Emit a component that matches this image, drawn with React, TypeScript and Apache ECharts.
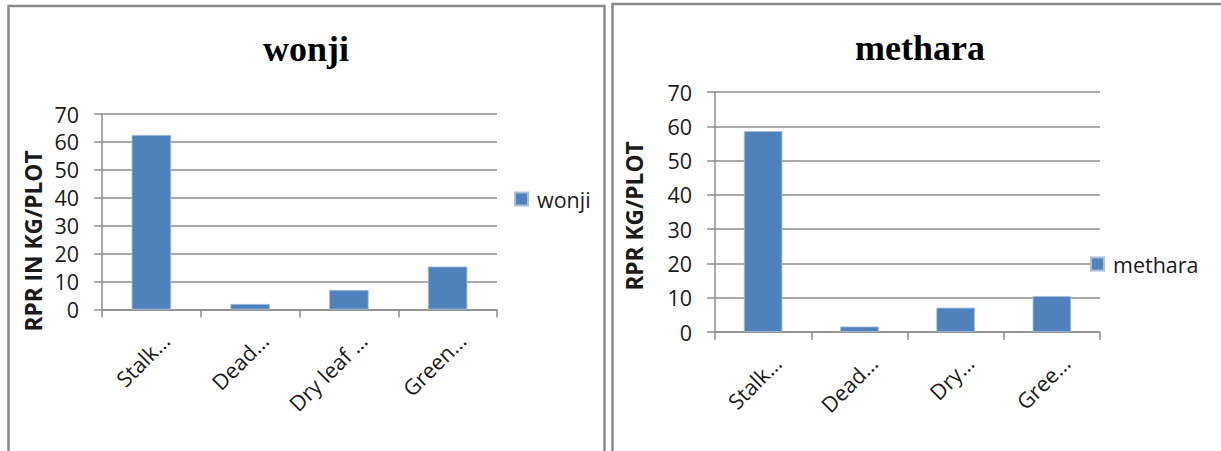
import React, { useEffect, useRef } from "react";
import * as echarts from "echarts";

const wonjiCategories = ["Stalk…", "Dead…", "Dry leaf …", "Green…"];
const wonjiValues = [62.5, 2.0, 7.0, 15.4];
const metharaCategories = ["Stalk…", "Dead…", "Dry…", "Gree…"];
const metharaValues = [58.6, 1.6, 7.1, 10.5];
const yMin = 0;
const yMax = 70;
const yStep = 10;
const wonjiTitle = "wonji";
const metharaTitle = "methara";
const wonjiAxisName = "RPR IN KG/PLOT";
const metharaAxisName = "RPR KG/PLOT";

const FONT = "Open Sans";
const GRID_COLOR = "#8e8e8e";
const BAR_COLOR = "#4f81bd";

function xAxisFor(cats: string[], gridIndex: number) {
  return {
    type: "category",
    gridIndex,
    data: cats,
    boundaryGap: true,
    axisLine: { show: true, lineStyle: { color: GRID_COLOR, width: 1.5 } },
    axisTick: { show: true, length: 8, lineStyle: { color: GRID_COLOR, width: 1.5 } },
    axisLabel: {
      rotate: 45,
      interval: 0,
      margin: 13,
      fontFamily: FONT,
      fontSize: 21.5,
      color: "#1a1a1a",
      verticalAlign: "top",
      lineHeight: 40,
    },
  };
}

function yAxisFor(gridIndex: number) {
  return {
    type: "value",
    gridIndex,
    min: yMin,
    max: yMax,
    interval: yStep,
    axisLine: { show: true, lineStyle: { color: GRID_COLOR, width: 1.5 } },
    axisTick: { show: true, length: 8, inside: false, lineStyle: { color: GRID_COLOR, width: 1.5 } },
    splitLine: { show: true, lineStyle: { color: GRID_COLOR, width: 1.5 } },
    axisLabel: { margin: 23, fontFamily: FONT, fontSize: 21.5, color: "#1a1a1a" },
  };
}

export default function App() {
  const ref = useRef<HTMLDivElement>(null);
  useEffect(() => {
    if (!ref.current) return;
    const chart = echarts.init(ref.current, undefined, { renderer: "svg" });
    chart.setOption({
      animation: false,
      backgroundColor: "#ffffff",
      title: [
        {
          text: wonjiTitle,
          left: 306,
          top: 31,
          textAlign: "center",
          padding: 0,
          textStyle: { fontFamily: "Liberation Serif", fontWeight: "bold", fontSize: 36, color: "#000" },
        },
        {
          text: metharaTitle,
          left: 920,
          top: 30,
          textAlign: "center",
          padding: 0,
          textStyle: { fontFamily: "Liberation Serif", fontWeight: "bold", fontSize: 36, color: "#000" },
        },
      ],
      legend: [
        {
          data: [wonjiTitle],
          left: 514,
          top: 188,
          padding: 0,
          itemWidth: 13,
          itemHeight: 13,
          icon: "rect",
          textStyle: { fontFamily: FONT, fontSize: 21.5, color: "#1a1a1a", padding: [0, 0, 0, 4] },
        },
        {
          data: [metharaTitle],
          left: 1090,
          top: 253,
          padding: 0,
          itemWidth: 13,
          itemHeight: 13,
          icon: "rect",
          textStyle: { fontFamily: FONT, fontSize: 21.5, color: "#1a1a1a", padding: [0, 0, 0, 4] },
        },
      ],
      grid: [
        { left: 102, top: 114, width: 395, height: 195.5 },
        { left: 715, top: 92, width: 385, height: 240 },
      ],
      xAxis: [xAxisFor(wonjiCategories, 0), xAxisFor(metharaCategories, 1)],
      yAxis: [yAxisFor(0), yAxisFor(1)],
      series: [
        {
          name: wonjiTitle,
          type: "bar",
          xAxisIndex: 0,
          yAxisIndex: 0,
          data: wonjiValues,
          barWidth: "40%",
          itemStyle: { color: BAR_COLOR, borderColor: "#a8c0e0", borderWidth: 0.8 },
        },
        {
          name: metharaTitle,
          type: "bar",
          xAxisIndex: 1,
          yAxisIndex: 1,
          data: metharaValues,
          barWidth: "40%",
          itemStyle: { color: BAR_COLOR, borderColor: "#a8c0e0", borderWidth: 0.8 },
        },
      ],
      graphic: [
        {
          type: "rect",
          shape: { x: 8.5, y: 6, width: 596, height: 520 },
          style: { fill: "none", stroke: "#8a8a8a", lineWidth: 2.5 },
          silent: true,
          z: 0,
        },
        {
          type: "rect",
          shape: { x: 612.5, y: 4, width: 640, height: 520 },
          style: { fill: "none", stroke: "#8a8a8a", lineWidth: 2.5 },
          silent: true,
          z: 0,
        },
        {
          type: "text",
          x: 33,
          y: 241,
          rotation: Math.PI / 2,
          style: {
            text: wonjiAxisName,
            align: "center",
            verticalAlign: "middle",
            fontFamily: FONT,
            fontWeight: "bold",
            fontSize: 22.7,
            fill: "#1a1a1a",
          },
        },
        {
          type: "text",
          x: 634,
          y: 216,
          rotation: Math.PI / 2,
          style: {
            text: metharaAxisName,
            align: "center",
            verticalAlign: "middle",
            fontFamily: FONT,
            fontWeight: "bold",
            fontSize: 22.7,
            fill: "#1a1a1a",
          },
        },
      ],
    });
    return () => chart.dispose();
  }, []);
  return (
    <div
      ref={ref}
      style={{ position: "fixed", left: 0, top: 0, width: 1221, height: 451, background: "#fff" }}
    />
  );
}
